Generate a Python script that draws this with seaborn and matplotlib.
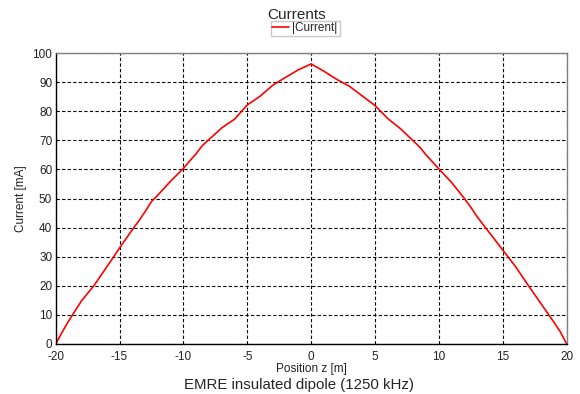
import matplotlib
matplotlib.use("Agg")
import matplotlib.pyplot as plt
import seaborn as sns
import pandas as pd

# Data
position_z = [-20, -19.5, -19, -18, -17, -16, -15, -14, -13.5, -13, -12.5, -12, -11, -10,
              -9, -8.5, -8, -7, -6, -5, -4, -3, -2, -1, 0,
              1, 2, 3, 4, 5, 6, 7, 8, 8.5, 9, 10, 11, 12, 12.5, 13, 14, 15,
              16, 17, 18, 19, 19.5, 20]
current_ma = [0, 4.0, 7.8, 14.7, 20.1, 26.5, 33.0, 39.3, 42.3, 45.5, 49.0, 51.2, 56.0, 60.4,
              65.5, 68.3, 70.3, 74.3, 77.3, 82.2, 85.2, 89.0, 91.7, 94.3, 96.3,
              93.8, 91.0, 88.6, 85.3, 82.0, 77.5, 74.0, 69.8, 67.7, 65.0, 60.2, 55.5, 50.0,
              47.0, 43.7, 38.0, 32.3, 26.6, 20.1, 13.8, 7.5, 4.2, 0]
x_ticks = [-20, -15, -10, -5, 0, 5, 10, 15, 20]
y_ticks = [0, 10, 20, 30, 40, 50, 60, 70, 80, 90, 100]

sns.set_style("white")
plt.rcParams['font.family'] = ['Liberation Sans', 'DejaVu Sans']

df = pd.DataFrame({"z": position_z, "I": current_ma})

fig = plt.figure(figsize=(5.8, 3.94), dpi=100)
ax = fig.add_axes([0.096, 0.127, 0.881, 0.738])

sns.lineplot(data=df, x="z", y="I", ax=ax, color="#ff0000", linewidth=1.2,
             label="|Current|", sort=False)

ax.set_xlim(-20, 20)
ax.set_ylim(0, 100)
ax.set_xticks(x_ticks)
ax.set_yticks(y_ticks)
ax.set_xticklabels([str(t) for t in x_ticks])
ax.set_yticklabels([str(t) for t in y_ticks])
ax.tick_params(axis="both", length=0, labelsize=8.5, colors="#222222")
ax.tick_params(axis="x", pad=5.0)
ax.tick_params(axis="y", pad=2.5)

ax.grid(True, color="black", linestyle=(0, (3, 2)), linewidth=0.8)
for side in ["left", "bottom"]:
    ax.spines[side].set_color("black")
    ax.spines[side].set_linewidth(1.0)
for side in ["top", "right"]:
    ax.spines[side].set_color("#808080")
    ax.spines[side].set_linewidth(1.0)

ax.set_xlabel("Position z [m]", fontsize=8.5, labelpad=0, color="#222222")
ax.set_ylabel("Current [mA]", fontsize=8.5, labelpad=4, color="#222222")

ax.get_legend().remove()
handles, labels = ax.get_legend_handles_labels()
fig.legend(handles, labels, loc="center", bbox_to_anchor=(0.526, 0.928),
           fontsize=8.5, handlelength=1.4, handletextpad=0.3, borderpad=0.15,
           fancybox=False, edgecolor="#c8c8c8", framealpha=1, borderaxespad=0)

fig.text(0.512, 0.962, "Currents", ha="center", va="center", fontsize=11)
fig.text(0.515, 0.022, "EMRE insulated dipole (1250 kHz)", ha="center", va="center",
         fontsize=10.8)

fig.savefig("out.png", dpi=100)
